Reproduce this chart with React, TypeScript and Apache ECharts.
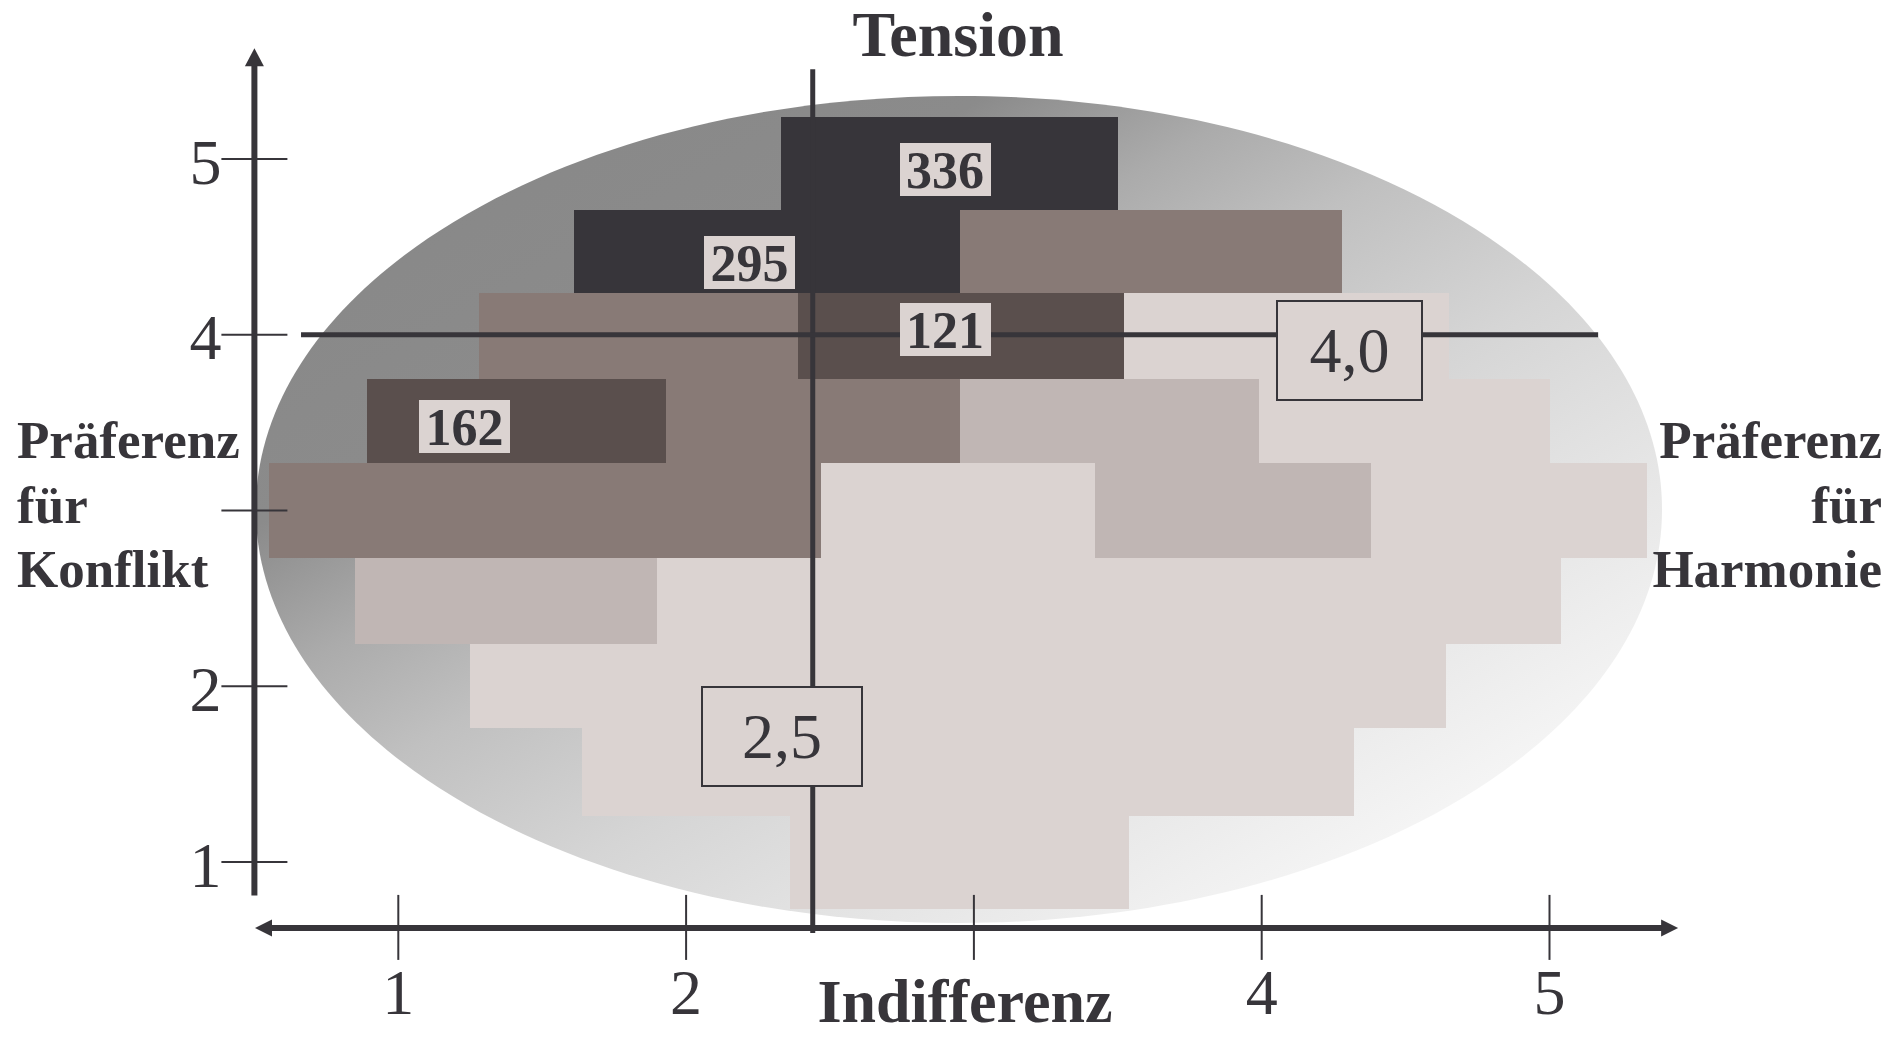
import React, { useEffect, useRef } from 'react';
import * as echarts from 'echarts';

// ---------- data ----------
const xTickValues = [1, 2, 3, 4, 5];
const xTickLabels = ['1', '2', '', '4', '5'];
const yTickValues = [1, 2, 3, 4, 5];
const yTickLabels = ['1', '2', '', '4', '5'];

// horizontal band edges (top of first row ... bottom of last row), in y units
const rowEdges = [5.24, 4.71, 4.24, 3.75, 3.27, 2.73, 2.24, 1.76, 1.26, 0.73];
// x edges of the cells in each band
const rowXEdges = [
  [2.33, 3.5],
  [1.61, 2.95, 4.28],
  [1.28, 2.39, 3.52, 4.65],
  [0.89, 1.93, 2.95, 3.99, 5.0],
  [0.55, 2.47, 3.42, 4.38, 5.34],
  [0.85, 1.9, 5.04],
  [1.25, 4.64],
  [1.64, 4.32],
  [2.36, 3.54],
];
// shade class of each cell (0 = darkest ... 4 = lightest)
const rowShades = [[0], [0, 2], [2, 1, 4], [1, 2, 3, 4], [2, 4, 3, 4], [3, 4], [4], [4], [4]];

const countLabels = ['336', '295', '121', '162'];
const countX = [2.9, 2.22, 2.9, 1.23];
const countY = [4.94, 4.41, 4.03, 3.48];

const meanLabels = ['2,5', '4,0'];
const meanLineX = 2.44;
const meanLineY = 4.0;
const meanBoxX = [2.333, 4.305];
const meanBoxY = [1.714, 3.91];

const ellipseCenter = [2.948, 3.006];
const ellipseRadius = [2.443, 2.353];

// ---------- layout (data units) ----------
const yAxisAtX = 0.5;
const yAxisFrom = 0.81;
const yAxisTo = 5.63;
const xAxisAtY = 0.625;
const xAxisFrom = 0.502;
const xAxisTo = 5.447;
const meanVFrom = 0.596;
const meanVTo = 5.511;
const meanHFrom = 0.662;
const meanHTo = 5.169;

// ---------- styles ----------
const shadeColors = ['#37353a', '#5a4f4d', '#887a76', '#c0b6b4', '#dbd3d1'];
const ink = '#37353a';
const boxFill = '#dbd3d1';
const serif = '"Liberation Serif", "Times New Roman", serif';
const ellipseStops = [
  { offset: 0, color: '#868686' },
  { offset: 0.26, color: '#8b8b8b' },
  { offset: 0.31, color: '#9b9b9b' },
  { offset: 0.36, color: '#ababab' },
  { offset: 0.45, color: '#c0c0c0' },
  { offset: 0.58, color: '#d5d5d5' },
  { offset: 0.67, color: '#e0e0e0' },
  { offset: 0.75, color: '#e9e9e9' },
  { offset: 0.86, color: '#f5f5f5' },
  { offset: 1, color: '#ffffff' },
];

function buildCells() {
  const out: number[][] = [];
  rowXEdges.forEach((edges, i) => {
    for (let j = 0; j < edges.length - 1; j++) {
      out.push([edges[j], edges[j + 1], rowEdges[i + 1], rowEdges[i], rowShades[i][j]]);
    }
  });
  return out;
}

function buildOption(): any {
  const cells = buildCells();
  const R = Math.round;

  const ellipseSeries = {
    type: 'custom',
    z: 1,
    silent: true,
    data: [[ellipseCenter[0], ellipseCenter[1], ellipseRadius[0], ellipseRadius[1]]],
    encode: { x: 0, y: 1 },
    renderItem: (_p: any, api: any) => {
      const c = api.coord([api.value(0), api.value(1)]);
      const rx = api.size([api.value(2), 0])[0];
      const ry = api.size([0, api.value(3)])[1];
      const x0 = c[0] - rx;
      const y0 = c[1] - ry;
      const w = 2 * rx;
      const h = 2 * ry;
      const k = (2 * w * h) / (w * w + h * h);
      return {
        type: 'ellipse',
        shape: { cx: c[0], cy: c[1], rx, ry },
        style: {
          fill: new echarts.graphic.LinearGradient(x0, y0, x0 + h * k, y0 + w * k, ellipseStops, true),
        },
      };
    },
  };

  const cellSeries = {
    type: 'custom',
    z: 2,
    silent: true,
    data: cells,
    encode: { x: [0, 1], y: [2, 3] },
    renderItem: (_p: any, api: any) => {
      const a = api.coord([api.value(0), api.value(3)]);
      const b = api.coord([api.value(1), api.value(2)]);
      const x = R(a[0]);
      const y = R(a[1]);
      return {
        type: 'rect',
        shape: { x, y, width: R(b[0]) - x, height: R(b[1]) - y },
        style: { fill: shadeColors[api.value(4)] },
      };
    },
  };

  const meanLineSeries = {
    type: 'custom',
    z: 3,
    silent: true,
    data: [[meanLineX, meanLineY]],
    encode: { x: 0, y: 1 },
    renderItem: (_p: any, api: any) => {
      const vx = api.value(0);
      const hy = api.value(1);
      const v0 = api.coord([vx, meanVFrom]);
      const v1 = api.coord([vx, meanVTo]);
      const h0 = api.coord([meanHFrom, hy]);
      const h1 = api.coord([meanHTo, hy]);
      return {
        type: 'group',
        children: [
          { type: 'line', shape: { x1: v0[0], y1: v0[1], x2: v1[0], y2: v1[1] }, style: { stroke: ink, lineWidth: 5 } },
          { type: 'line', shape: { x1: h0[0], y1: h0[1], x2: h1[0], y2: h1[1] }, style: { stroke: ink, lineWidth: 5 } },
        ],
      };
    },
  };

  const countSeries = {
    type: 'custom',
    z: 4,
    silent: true,
    data: countLabels.map((l, i) => [countX[i], countY[i], l]),
    encode: { x: 0, y: 1 },
    renderItem: (p: any, api: any) => {
      const c = api.coord([api.value(0), api.value(1)]);
      const w = 91;
      const h = 53;
      return {
        type: 'group',
        children: [
          { type: 'rect', shape: { x: R(c[0] - w / 2), y: R(c[1] - h / 2), width: w, height: h }, style: { fill: boxFill } },
          {
            type: 'text',
            x: c[0],
            y: c[1] + 1,
            style: {
              text: countLabels[p.dataIndex],
              font: `bold 52px ${serif}`,
              fill: ink,
              textAlign: 'center',
              textVerticalAlign: 'middle',
            },
          },
        ],
      };
    },
  };

  const meanBoxSeries = {
    type: 'custom',
    z: 4,
    silent: true,
    data: meanLabels.map((l, i) => [meanBoxX[i], meanBoxY[i], l]),
    encode: { x: 0, y: 1 },
    renderItem: (p: any, api: any) => {
      const c = api.coord([api.value(0), api.value(1)]);
      const w = p.dataIndex === 0 ? 160 : 145;
      const h = 99;
      return {
        type: 'group',
        children: [
          {
            type: 'rect',
            shape: { x: R(c[0] - w / 2), y: R(c[1] - h / 2), width: w, height: h },
            style: { fill: boxFill, stroke: ink, lineWidth: 2 },
          },
          {
            type: 'text',
            x: c[0],
            y: c[1],
            style: {
              text: meanLabels[p.dataIndex],
              font: `64px ${serif}`,
              fill: ink,
              textAlign: 'center',
              textVerticalAlign: 'middle',
            },
          },
        ],
      };
    },
  };

  const axesSeries = {
    type: 'custom',
    z: 5,
    silent: true,
    data: [[yAxisAtX, xAxisAtY]],
    encode: { x: 0, y: 1 },
    renderItem: (_p: any, api: any) => {
      const children: any[] = [];
      // y axis
      const yb = api.coord([yAxisAtX, yAxisFrom]);
      const yt = api.coord([yAxisAtX, yAxisTo]);
      children.push({ type: 'line', shape: { x1: yb[0], y1: yb[1], x2: yt[0], y2: yt[1] + 16 }, style: { stroke: ink, lineWidth: 6 } });
      children.push({
        type: 'polygon',
        shape: { points: [[yt[0], yt[1]], [yt[0] - 9.5, yt[1] + 18], [yt[0] + 9.5, yt[1] + 18]] },
        style: { fill: ink },
      });
      // x axis
      const xl = api.coord([xAxisFrom, xAxisAtY]);
      const xr = api.coord([xAxisTo, xAxisAtY]);
      children.push({ type: 'line', shape: { x1: xl[0] + 15, y1: xl[1], x2: xr[0] - 15, y2: xr[1] }, style: { stroke: ink, lineWidth: 6 } });
      children.push({
        type: 'polygon',
        shape: { points: [[xl[0], xl[1]], [xl[0] + 17, xl[1] - 8.5], [xl[0] + 17, xl[1] + 8.5]] },
        style: { fill: ink },
      });
      children.push({
        type: 'polygon',
        shape: { points: [[xr[0], xr[1]], [xr[0] - 17, xr[1] - 8.5], [xr[0] - 17, xr[1] + 8.5]] },
        style: { fill: ink },
      });
      // y ticks + labels
      yTickValues.forEach((v, i) => {
        const t = api.coord([yAxisAtX, v]);
        children.push({ type: 'line', shape: { x1: t[0] - 33, y1: t[1], x2: t[0] + 33, y2: t[1] }, style: { stroke: ink, lineWidth: 2 } });
        if (yTickLabels[i]) {
          children.push({
            type: 'text',
            x: t[0] - 33,
            y: t[1] + 3,
            style: { text: yTickLabels[i], font: `64px ${serif}`, fill: ink, textAlign: 'right', textVerticalAlign: 'middle' },
          });
        }
      });
      // x ticks + labels
      xTickValues.forEach((v, i) => {
        const t = api.coord([v, xAxisAtY]);
        children.push({ type: 'line', shape: { x1: t[0], y1: t[1] - 33, x2: t[0], y2: t[1] + 32 }, style: { stroke: ink, lineWidth: 2 } });
        if (xTickLabels[i]) {
          children.push({
            type: 'text',
            x: t[0],
            y: t[1] + 65,
            style: { text: xTickLabels[i], font: `64px ${serif}`, fill: ink, textAlign: 'center', textVerticalAlign: 'middle' },
          });
        }
      });
      return { type: 'group', children };
    },
  };

  const boldText = (text: string, x: number, y: number, align: string, size: number) => ({
    type: 'text',
    x,
    y,
    z: 10,
    silent: true,
    style: { text, font: `bold ${size}px ${serif}`, fill: ink, textAlign: align, textVerticalAlign: 'middle' },
  });

  return {
    animation: false,
    backgroundColor: '#ffffff',
    grid: { left: 254.4, right: 210.6, top: 71.125, bottom: 87.125, containLabel: false },
    xAxis: { type: 'value', min: 0.5, max: 5.5, show: false },
    yAxis: { type: 'value', min: 0.5, max: 5.5, show: false },
    graphic: [
      boldText('Tension', 958, 34, 'center', 64),
      boldText('Indifferenz', 965, 1001, 'center', 62),
      boldText('Präferenz', 17, 440, 'left', 53),
      boldText('für', 17, 505, 'left', 53),
      boldText('Konflikt', 17, 569, 'left', 53),
      boldText('Präferenz', 1882, 440, 'right', 53),
      boldText('für', 1882, 505, 'right', 53),
      boldText('Harmonie', 1882, 569, 'right', 53),
    ],
    series: [ellipseSeries, cellSeries, meanLineSeries, countSeries, meanBoxSeries, axesSeries],
  };
}

export default function App() {
  const ref = useRef<HTMLDivElement>(null);
  useEffect(() => {
    if (!ref.current) return;
    const chart = echarts.init(ref.current, undefined, { renderer: 'svg' });
    chart.setOption(buildOption());
    return () => {
      chart.dispose();
    };
  }, []);
  return (
    <div
      ref={ref}
      style={{ position: 'fixed', left: 0, top: 0, width: 1904, height: 1037, background: '#ffffff' }}
    />
  );
}
